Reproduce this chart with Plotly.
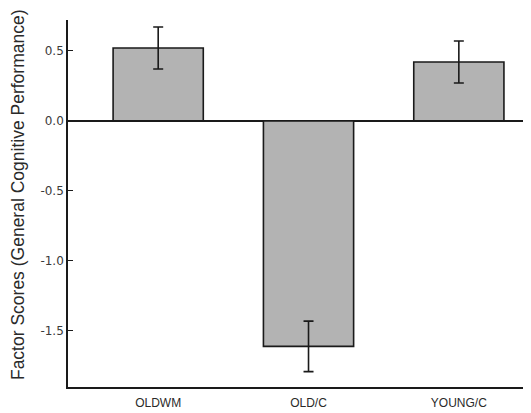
import plotly.graph_objects as go

groups = ["OLDWM", "OLD/C", "YOUNG/C"]
factor_scores = [0.52, -1.61, 0.42]
std_errors = [0.15, 0.18, 0.15]
y_ticks = [0.5, 0.0, -0.5, -1.0, -1.5]
y_title = "Factor Scores (General Cognitive Performance)"

fig = go.Figure()
fig.add_trace(go.Bar(
    x=groups, y=factor_scores,
    marker=dict(color="#b3b3b3", line=dict(color="#1a1a1a", width=1.6)),
    error_y=dict(type="data", array=std_errors, visible=True,
                 color="#1a1a1a", thickness=1.6, width=5),
    width=0.6,
))

# page body has an 8px margin; compensate so the plot area matches
fig.update_layout(
    width=523, height=405,
    margin=dict(l=60, r=0, t=12, b=26),
    paper_bgcolor="white", plot_bgcolor="white",
    showlegend=False,
    font=dict(family="Liberation Sans, Arial, sans-serif", color="#333333"),
)
fig.add_annotation(
    text=y_title, textangle=-90, xref="paper", yref="paper",
    x=0, y=0.523, xanchor="center", yanchor="middle", xshift=-50,
    showarrow=False,
    font=dict(family="Liberation Sans, Arial, sans-serif", size=17.5, color="#2a2a2a"),
)
fig.update_xaxes(
    range=[-0.6, 2.48], showline=True, linecolor="#1a1a1a", linewidth=1.6,
    ticks="", showgrid=False, zeroline=False, ticklabelstandoff=4,
    tickfont=dict(family="Liberation Sans, Arial, sans-serif", size=12, color="#2a2a2a"),
)
fig.update_yaxes(
    range=[-1.9, 0.72], tickvals=y_ticks,
    ticktext=[f"{v:.1f}" for v in y_ticks],
    showline=True, linecolor="#1a1a1a", linewidth=1.6,
    ticks="inside", ticklen=5, tickwidth=1, tickcolor="#1a1a1a",
    showgrid=False, zeroline=True, zerolinecolor="#1a1a1a", zerolinewidth=1.6,
    tickfont=dict(family="DejaVu Sans, sans-serif", size=12, color="#3a3a3a"),
)
fig.write_html("out.html")
